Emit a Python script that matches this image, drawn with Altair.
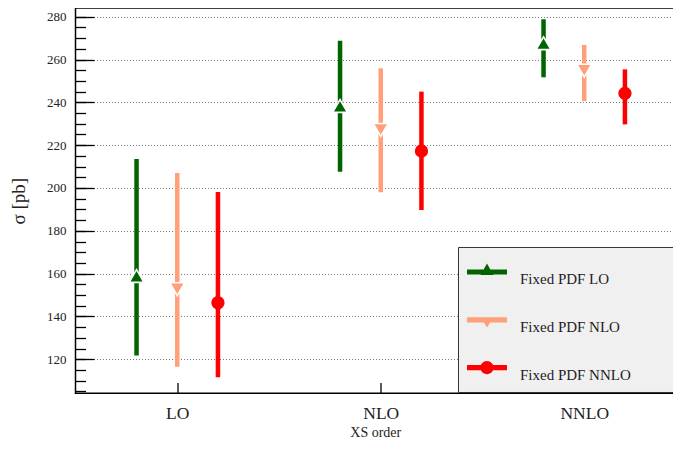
import altair as alt
import pandas as pd

# ---- data ----
orders = ["LO", "NLO", "NNLO"]
series_names = ["Fixed PDF LO", "Fixed PDF NLO", "Fixed PDF NNLO"]
series_colors = ["#006400", "#ffa07a", "#ff0000"]

central = {
    "Fixed PDF LO":   [158.9, 238.3, 267.6],
    "Fixed PDF NLO":  [152.7, 227.1, 254.8],
    "Fixed PDF NNLO": [146.4, 217.3, 244.2],
}
low = {
    "Fixed PDF LO":   [121.7, 207.6, 251.7],
    "Fixed PDF NLO":  [116.5, 198.0, 240.6],
    "Fixed PDF NNLO": [111.6, 189.7, 229.7],
}
high = {
    "Fixed PDF LO":   [213.5, 268.8, 278.8],
    "Fixed PDF NLO":  [207.0, 255.9, 266.8],
    "Fixed PDF NNLO": [198.1, 245.0, 255.4],
}

y_major_ticks = [120, 140, 160, 180, 200, 220, 240, 260, 280]
y_minor_ticks = list(range(105, 290, 5))

rows = []
for si, s in enumerate(series_names):
    for oi, o in enumerate(orders):
        rows.append({"series": s, "order": o, "oi": oi, "si": si,
                     "central": central[s][oi], "low": low[s][oi], "high": high[s][oi]})
df = pd.DataFrame(rows)

FONT = "Liberation Serif"
label_expr = "[" + ",".join("'%s'" % o for o in orders) + "][datum.value]"

base = alt.Chart(df).transform_calculate(xpos="datum.oi + (datum.si - 1) * 0.2")

xscale = alt.Scale(domain=[-0.5, 2.446], nice=False, zero=False)
yscale = alt.Scale(domain=[104.1, 284.06], nice=False, zero=False)
cscale = alt.Scale(domain=series_names, range=series_colors)

x_axis = alt.Axis(values=[0, 1, 2], labelExpr=label_expr, tickSize=10.7, offset=-10.7,
                  orient="bottom", domain=False, grid=False, tickColor="black", tickWidth=1.3,
                  labelPadding=11.5, labelFont=FONT, labelFontSize=17.5, labelColor="#222",
                  title="XS order", titleFont=FONT, titleFontSize=14,
                  titleFontWeight="normal", titleColor="#222", titlePadding=3)

y_axis_major = alt.Axis(values=y_major_ticks, tickSize=18.5, offset=-18.5, domain=False,
                        orient="left",
                        tickColor="black", tickWidth=1.3, labelPadding=9.5,
                        labelFont=FONT, labelFontSize=13, labelColor="#222",
                        grid=True, gridDash=[1, 2], gridColor="#777", gridWidth=1,
                        title="σ [pb]", titleFont=FONT, titleFontSize=19,
                        titleFontWeight="normal", titleColor="#222", titlePadding=18)

y_axis_minor = alt.Axis(values=y_minor_ticks, tickSize=10, offset=-10, domain=False,
                        orient="left",
                        tickColor="black", tickWidth=1.3, labels=False, grid=False,
                        title=None)

shapes = {"Fixed PDF LO": ("triangle-up", 220, 1.6),
          "Fixed PDF NLO": ("triangle-down", 220, 1.6),
          "Fixed PDF NNLO": ("circle", 177, 0)}

rule_layers = []
point_layers = []
for i, s in enumerate(series_names):
    col = series_colors[i]
    sub = base.transform_filter(alt.datum.series == s)
    rl = sub.mark_rule(strokeWidth=4.5, strokeCap="butt", color=col).encode(
        x=alt.X("xpos:Q", scale=xscale, axis=x_axis),
        y=alt.Y("low:Q", scale=yscale, axis=(y_axis_major if i == 0 else None)),
        y2="high:Q",
    )
    rule_layers.append(rl)
    shp, sz, sw = shapes[s]
    pl = sub.mark_point(
        shape=shp, filled=True, size=sz, opacity=1, fill=col, stroke="white", strokeWidth=sw
    ).encode(
        x=alt.X("xpos:Q", scale=xscale, axis=x_axis),
        y=alt.Y("central:Q", scale=yscale, axis=None if i else y_axis_minor),
    )
    point_layers.append(pl)

# legend handles: line + marker; empty sub-paths widen the legend box to the frame edges
EXTEND = " M9.5,0L9.5,0Z"
legend_paths = [
    "M-1,-0.13L1,-0.13L1,0.13L-1,0.13Z M0,-0.42L0.32,0.15L-0.32,0.15Z" + EXTEND,
    "M-1,-0.13L1,-0.13L1,0.13L-1,0.13Z M-0.32,-0.13L0.32,-0.13L0,0.38Z" + EXTEND,
    "M-1,-0.13L1,-0.13L1,0.13L-1,0.13Z M-0.33,0A0.33,0.33 0 1,1 0.33,0A0.33,0.33 0 1,1 -0.33,0Z"
    + EXTEND + " M0,0.95L0,0.95Z",
]

legend_def = alt.Legend(title=None, orient="none", legendX=382.5, legendY=239,
                        symbolSize=1600, symbolStrokeWidth=0, symbolOffset=4,
                        fillColor="#f0f0f0", strokeColor="#333333", padding=5,
                        rowPadding=12.8, labelOffset=13, labelFont=FONT, labelFontSize=15,
                        labelColor="#222", labelLimit=400, labelBaseline="top")

legend_layer = base.transform_filter("datum.central < 0").mark_point(
    filled=True, opacity=1, strokeWidth=0
).encode(
    x=alt.X("xpos:Q", scale=xscale, axis=x_axis),
    y=alt.Y("central:Q", scale=yscale, axis=None),
    color=alt.Color("series:N", scale=cscale, legend=legend_def),
    shape=alt.Shape("series:N", scale=alt.Scale(domain=series_names, range=legend_paths),
                    legend=legend_def),
)

chart = alt.layer(*rule_layers, *point_layers, legend_layer).resolve_axis(
    y="independent"
).properties(
    width=599.5, height=385.3,
    padding={"left": 67.5, "top": 0, "right": -2, "bottom": 48.5},
    autosize=alt.AutoSizeParams(type="none"),
).configure_view(stroke="black", strokeWidth=1.5)

chart.save("out.html", embed_options={"renderer": "svg", "actions": False})
